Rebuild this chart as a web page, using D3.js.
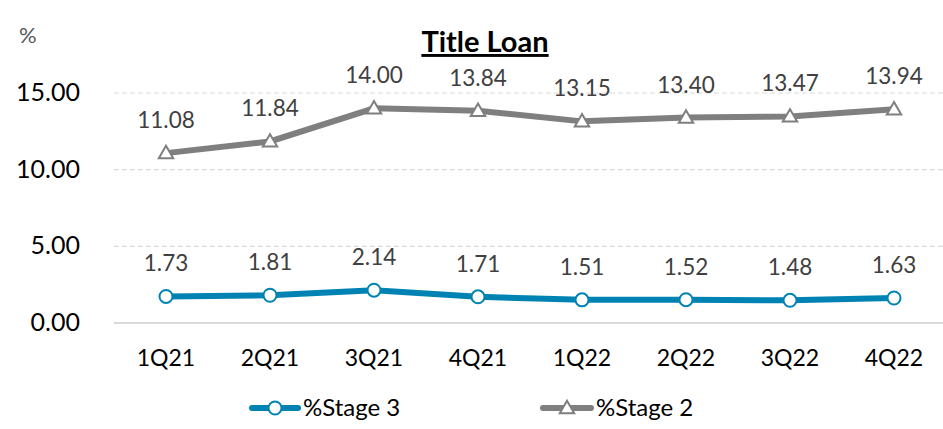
<!DOCTYPE html>
<html>
<head>
<meta charset="utf-8">
<script src="https://cdn.jsdelivr.net/npm/d3@7"></script>
<style>
  body { margin: 0; background: #fff; }
  text { font-family: "Lato", "Open Sans", sans-serif; }
</style>
</head>
<body>
<div id="chart"></div>
<script>
// chart data
var quarters = ["1Q21", "2Q21", "3Q21", "4Q21", "1Q22", "2Q22", "3Q22", "4Q22"];
var stage3 = [1.73, 1.81, 2.14, 1.71, 1.51, 1.52, 1.48, 1.63];
var stage2 = [11.08, 11.84, 14.00, 13.84, 13.15, 13.40, 13.47, 13.94];
var yTicks = [0, 5, 10, 15];

var svgWidth = 943;
var svgHeight = 429;

var svg = d3.select("#chart")
  .append("svg")
  .attr("width", svgWidth)
  .attr("height", svgHeight);

var x = d3.scaleBand()
  .domain(quarters)
  .range([114, 946]);

var y = d3.scaleLinear()
  .domain([0, 15])
  .range([323, 93]);

var cx = d => x(d) + x.bandwidth() / 2;

// gridlines
svg.append("g")
  .selectAll("line")
  .data(yTicks)
  .enter()
  .append("line")
  .attr("x1", 114)
  .attr("x2", 943)
  .attr("y1", d => y(d))
  .attr("y2", d => y(d))
  .attr("stroke", "#d9d9d9")
  .attr("stroke-width", d => d === 0 ? 2 : 1.2)
  .attr("stroke-dasharray", d => d === 0 ? null : "5,3");

// y tick labels
svg.append("g")
  .selectAll("text")
  .data(yTicks)
  .enter()
  .append("text")
  .attr("x", 80)
  .attr("y", d => y(d) + 8)
  .attr("text-anchor", "end")
  .attr("font-size", 25)
  .attr("fill", "#000")
  .text(d => d.toFixed(2));

// x labels
svg.append("g")
  .selectAll("text")
  .data(quarters)
  .enter()
  .append("text")
  .attr("x", d => cx(d))
  .attr("y", 366)
  .attr("text-anchor", "middle")
  .attr("font-size", 23)
  .attr("fill", "#000")
  .text(d => d);

// "%" unit and title
svg.append("text")
  .attr("x", 19)
  .attr("y", 43)
  .attr("font-size", 22)
  .attr("fill", "#595959")
  .text("%");

svg.append("text")
  .attr("x", 485)
  .attr("y", 52)
  .attr("text-anchor", "middle")
  .attr("font-size", 29)
  .attr("font-weight", "bold")
  .attr("text-decoration", "underline")
  .attr("fill", "#000")
  .text("Title Loan");

var line = d3.line()
  .x((d, i) => cx(quarters[i]))
  .y(d => y(d));

var blue = "#0083b3";
var grey = "#7f7f7f";

var tri = d3.symbol().type(d3.symbolTriangle).size(90);

// stage 2 series
svg.append("path")
  .datum(stage2)
  .attr("d", line)
  .attr("fill", "none")
  .attr("stroke", grey)
  .attr("stroke-width", 6);

svg.append("g")
  .selectAll("path")
  .data(stage2)
  .enter()
  .append("path")
  .attr("d", tri)
  .attr("transform", (d, i) => `translate(${cx(quarters[i])}, ${y(d) + 1})`)
  .attr("fill", "#fff")
  .attr("stroke", grey)
  .attr("stroke-width", 2);

svg.append("g")
  .selectAll("text")
  .data(stage2)
  .enter()
  .append("text")
  .attr("x", (d, i) => cx(quarters[i]))
  .attr("y", d => y(d) - 25)
  .attr("text-anchor", "middle")
  .attr("font-size", 22.5)
  .attr("fill", "#404040")
  .text(d => d.toFixed(2));

// stage 3 series
svg.append("path")
  .datum(stage3)
  .attr("d", line)
  .attr("fill", "none")
  .attr("stroke", blue)
  .attr("stroke-width", 6);

svg.append("g")
  .selectAll("circle")
  .data(stage3)
  .enter()
  .append("circle")
  .attr("cx", (d, i) => cx(quarters[i]))
  .attr("cy", d => y(d))
  .attr("r", 6.5)
  .attr("fill", "#fff")
  .attr("stroke", blue)
  .attr("stroke-width", 2);

svg.append("g")
  .selectAll("text")
  .data(stage3)
  .enter()
  .append("text")
  .attr("x", (d, i) => cx(quarters[i]))
  .attr("y", d => y(d) - 25)
  .attr("text-anchor", "middle")
  .attr("font-size", 22.5)
  .attr("fill", "#404040")
  .text(d => d.toFixed(2));

// legend
var legend = svg.append("g");

legend.append("line")
  .attr("x1", 252).attr("x2", 298)
  .attr("y1", 408).attr("y2", 408)
  .attr("stroke", blue).attr("stroke-width", 6)
  .attr("stroke-linecap", "round");
legend.append("circle")
  .attr("cx", 275).attr("cy", 408).attr("r", 6.5)
  .attr("fill", "#fff").attr("stroke", blue).attr("stroke-width", 2);
legend.append("text")
  .attr("x", 303).attr("y", 416)
  .attr("font-size", 24).attr("fill", "#000")
  .text("%Stage 3");

legend.append("line")
  .attr("x1", 543).attr("x2", 591)
  .attr("y1", 408).attr("y2", 408)
  .attr("stroke", grey).attr("stroke-width", 6)
  .attr("stroke-linecap", "round");
legend.append("path")
  .attr("d", tri)
  .attr("transform", "translate(567, 409)")
  .attr("fill", "#fff").attr("stroke", grey).attr("stroke-width", 2);
legend.append("text")
  .attr("x", 596).attr("y", 416)
  .attr("font-size", 24).attr("fill", "#000")
  .text("%Stage 2");
</script>
</body>
</html>
